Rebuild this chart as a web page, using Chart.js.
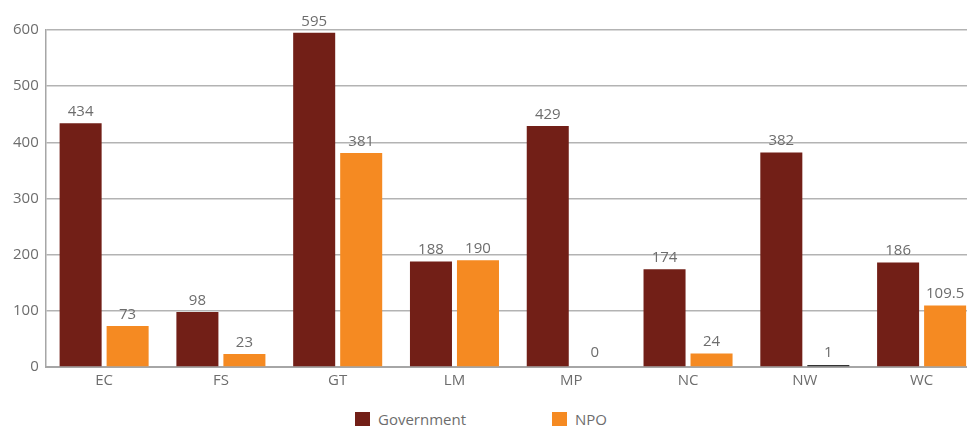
<!DOCTYPE html>
<html>
<head>
<meta charset="utf-8">
<script src="https://cdn.jsdelivr.net/npm/chart.js@4.4.1/dist/chart.umd.min.js"></script>
<style>
  html, body { margin: 0; padding: 0; background: #fff; overflow: hidden; }
  #wrap { position: relative; width: 967px; height: 426px; overflow: hidden; font-family: 'Open Sans', sans-serif; }
  #wrap canvas { position: absolute; left: 0; top: 0; }
  .legend { position: absolute; top: 409px; display: flex; align-items: center; font-size: 15px; color: #6d6d6d; }
  .legend span.box { display: inline-block; width: 15px; height: 14px; margin-right: 8px; }
</style>
</head>
<body>
<div id="wrap">
  <canvas id="chart" width="980" height="395"></canvas>
  <div class="legend" style="left:355px"><span class="box" style="background:#721f17"></span>Government</div>
  <div class="legend" style="left:552px"><span class="box" style="background:#f58a22"></span>NPO</div>
</div>
<script>
const categories = ['EC', 'FS', 'GT', 'LM', 'MP', 'NC', 'NW', 'WC']
const government = [434, 98, 595, 188, 429, 174, 382, 186]
const npo = [73, 23, 381, 190, 0, 24, 1, 109.5]
const yTicks = [0, 100, 200, 300, 400, 500, 600]

const GOV_COLOR = '#721f17'
const NPO_COLOR = '#f58a22'

// tiny bars show up as a dark line in the original, zero bars not at all
const npoColors = npo.map((v) => {
  if (v === 0) return 'rgba(0,0,0,0)'
  if (v < 5) return '#333333'
  return NPO_COLOR
})

// value labels above each bar
const barLabels = {
  id: 'barLabels',
  afterDatasetsDraw(chart) {
    const ctx = chart.ctx
    ctx.save()
    ctx.font = '15px "Open Sans", sans-serif'
    ctx.fillStyle = '#6d6d6d'
    ctx.textAlign = 'center'
    ctx.textBaseline = 'bottom'
    chart.data.datasets.forEach((ds, i) => {
      const meta = chart.getDatasetMeta(i)
      meta.data.forEach((bar, j) => {
        ctx.fillText(String(ds.data[j]), bar.x, Math.min(bar.y, bar.base - 2) - 4)
      })
    })
    ctx.restore()
  },
}

new Chart(document.getElementById('chart'), {
  type: 'bar',
  data: {
    labels: categories,
    datasets: [
      { label: 'Government', data: government, backgroundColor: GOV_COLOR },
      { label: 'NPO', data: npo, backgroundColor: npoColors, minBarLength: 2 },
    ],
  },
  options: {
    responsive: false,
    animation: false,
    layout: { padding: { top: 30, left: 6, right: 0, bottom: 0 } },
    categoryPercentage: 0.805,
    barPercentage: 0.894,
    plugins: {
      legend: { display: false },
      tooltip: { enabled: false },
    },
    scales: {
      x: {
        grid: { display: false, drawTicks: false },
        border: { color: '#a6a6a6', width: 2 },
        ticks: {
          color: '#6d6d6d',
          font: { family: 'Open Sans', size: 15 },
          padding: 5,
        },
      },
      y: {
        min: 0,
        max: 600,
        afterBuildTicks: (axis) => {
          axis.ticks = yTicks.map((v) => ({ value: v }))
        },
        grid: { color: '#b3b3b3', lineWidth: 1.5, drawTicks: false },
        border: { color: '#a6a6a6', width: 1.5 },
        ticks: {
          color: '#6d6d6d',
          font: { family: 'Open Sans', size: 15 },
          padding: 7,
        },
      },
    },
  },
  plugins: [barLabels],
})
</script>
</body>
</html>
